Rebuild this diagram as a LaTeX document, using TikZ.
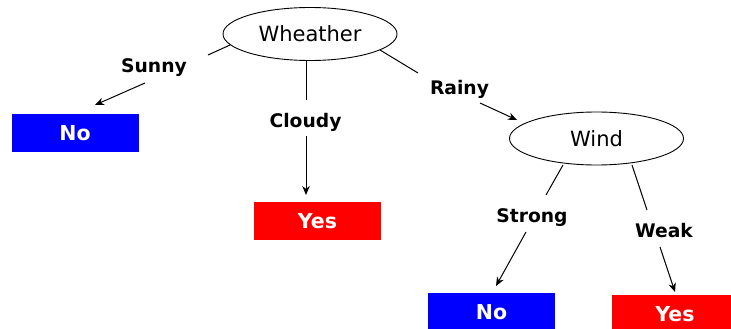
\documentclass[tikz,border=0pt]{standalone}
\usepackage{fontspec}
\setmainfont{DejaVu Sans}
\usetikzlibrary{shapes.geometric,arrows.meta}
\definecolor{leafblue}{RGB}{0,0,255}
\definecolor{leafred}{RGB}{255,0,0}
\begin{document}
\begin{tikzpicture}[x=1pt,y=-1pt,
  attr/.style={ellipse,draw,line width=0.9pt,minimum width=174pt,minimum height=53pt,inner sep=0pt,
    font=\fontsize{21}{24}\selectfont},
  leaf/.style={rectangle,minimum width=127pt,minimum height=38pt,inner sep=0pt,text=white,
    font=\fontsize{20.5}{24}\selectfont\bfseries},
  lbl/.style={anchor=base,inner sep=0pt,font=\fontsize{18.7}{22}\selectfont\bfseries},
  seg/.style={line width=1pt},
  arr/.style={line width=1pt,-{Stealth[length=9pt,width=7.5pt]}}]
\useasboundingbox (0,0) rectangle (731,329);
\clip (0,0) rectangle (731,329);
% nodes
\node[attr] (W) at (310,34) {Wheather};
\node[attr] (Wi) at (596.5,138.5) {Wind};
\node[leaf,fill=leafblue] (no1) at (75,133) {No};
\node[leaf,fill=leafred] (yes1) at (317.5,221) {Yes};
\node[leaf,fill=leafblue] (no2) at (491.5,312) {No};
\node[leaf,fill=leafred] (yes2) at (675,314) {Yes};
% labels
\node[lbl] (sunny) at (154,73) {Sunny};
\node[lbl] (cloudy) at (305.5,127) {Cloudy};
\node[lbl] (rainy) at (459.5,94) {Rainy};
\node[lbl] (strong) at (532,222) {Strong};
\node[lbl] (weak) at (664,237) {Weak};
% connector points
\coordinate (s0) at (230,45);   \coordinate (s1) at (208,55);
\coordinate (s2) at (145,83);   \coordinate (s3) at (95,105);
\coordinate (c0) at (306,60);   \coordinate (c1) at (306,100);
\coordinate (c2) at (306,136);  \coordinate (c3) at (306,195);
\coordinate (r0) at (380,50);   \coordinate (r1) at (418,73);
\coordinate (r2) at (480,103);  \coordinate (r3) at (517,120);
\coordinate (g0) at (563,165);  \coordinate (g1) at (546,195);
\coordinate (g2) at (526,232);  \coordinate (g3) at (496,286);
\coordinate (k0) at (632,165);  \coordinate (k1) at (647,210);
\coordinate (k2) at (660,247);  \coordinate (k3) at (675,292);
% connectors
\draw[seg] (s0) -- (s1); \draw[arr] (s2) -- (s3);
\draw[seg] (c0) -- (c1); \draw[arr] (c2) -- (c3);
\draw[seg] (r0) -- (r1); \draw[arr] (r2) -- (r3);
\draw[seg] (g0) -- (g1); \draw[arr] (g2) -- (g3);
\draw[seg] (k0) -- (k1); \draw[arr] (k2) -- (k3);
\end{tikzpicture}
\end{document}
